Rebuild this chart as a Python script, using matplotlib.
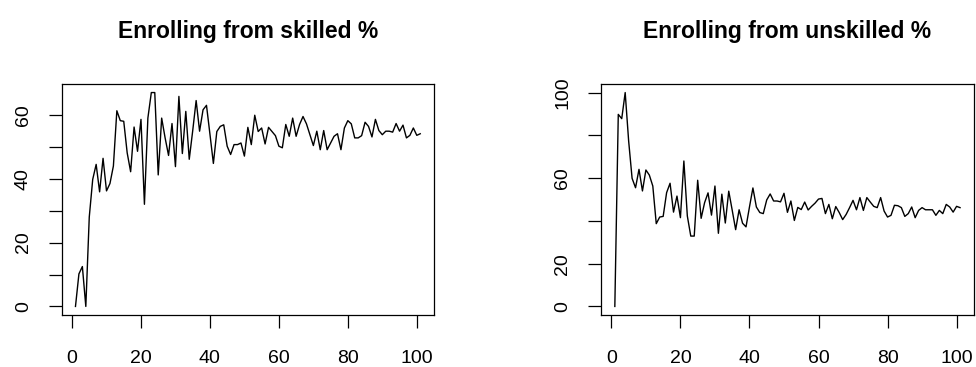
import matplotlib.pyplot as plt

plt.rcParams['font.family'] = ['Liberation Sans', 'DejaVu Sans']

# enrolment shares by period, 1..101
periods = list(range(1, 102))
skilled = [0, 10.2, 12.5, 0, 28, 39.8, 44.5, 35.9, 46.4, 36.2,
           38.5, 44, 61.3, 58.2, 58, 48.1, 42.2, 56.2, 48.6, 58.6,
           32, 59, 67, 67, 41.2, 59, 52.8, 47.3, 57.3, 43.8,
           65.8, 47.9, 61.1, 46.1, 55, 64.5, 54.9, 61.6, 63, 54,
           44.8, 54.8, 56.4, 56.9, 50.2, 47.6, 50.7, 50.7, 51.2, 47.1,
           56.1, 50.7, 59.9, 54.8, 55.9, 50.9, 56.1, 54.8, 53.5, 50.2,
           49.7, 57, 53.3, 59, 53.3, 57, 59.5, 57.2, 53.8, 50.4,
           54.9, 49.1, 55.1, 49.1, 51.2, 53.3, 54.1, 49.1, 55.9, 58.2,
           57.2, 52.8, 52.8, 53.5, 57.7, 56.4, 53.1, 58.6, 55.1, 53.8,
           54.9, 54.9, 54.6, 57.3, 54.9, 56.8, 52.8, 53.6, 55.9, 53.6,
           54.1]
unskilled = [0, 89.8, 87.8, 100, 77.4, 59.9, 55.5, 64.1, 54, 63.8,
             61.4, 56.3, 38.7, 41.8, 42.1, 53.2, 57.6, 44.1, 51.6, 41.5,
             68, 42.3, 32.9, 32.9, 59, 41.2, 48.5, 53.1, 42.7, 56.3,
             34.2, 52.5, 39, 53.9, 45, 35.9, 45.2, 38.9, 37.2, 46.5,
             55.4, 46.5, 43.9, 43.4, 49.8, 52.6, 49.3, 49.3, 48.9, 52.9,
             44, 49.3, 40.2, 46.3, 45.3, 48.8, 45.1, 46.8, 48.3, 50.2,
             50.5, 43.4, 47.7, 41, 46.7, 43.9, 40.6, 43, 46.2, 49.6,
             45.2, 50.9, 44.9, 50.9, 48.8, 46.8, 46.2, 50.9, 44.6, 41.8,
             42.6, 47.3, 47.1, 46.2, 42.1, 43.4, 46.5, 41.5, 44.9, 46.2,
             45.2, 45.2, 45.2, 42.6, 44.9, 43.4, 47.7, 46.5, 44.1, 46.8,
             46.2]

x_ticks = [0, 20, 40, 60, 80, 100]
skilled_ticks = [0, 10, 20, 30, 40, 50, 60]
skilled_labels = ['0', '', '20', '', '40', '', '60']
unskilled_ticks = [0, 20, 40, 60, 80, 100]
unskilled_labels = ['0', '20', '', '60', '', '100']

fig = plt.figure(figsize=(9.76, 3.67), dpi=100)
ax1 = fig.add_axes([0.0632, 0.1417, 0.3815, 0.6294])
ax2 = fig.add_axes([0.6158, 0.1417, 0.3820, 0.6294])


def r_style(ax, y, title, yt, ylab):
    ax.plot(periods, y, color='black', linewidth=1.0)
    lo, hi = min(y), max(y)
    pad = 0.04 * (hi - lo)
    ax.set_ylim(lo - pad, hi + pad)
    ax.set_xlim(1 - 4, 101 + 4)
    ax.set_xticks(x_ticks)
    ax.set_xticklabels([str(t) for t in x_ticks])
    ax.set_yticks(yt)
    ax.set_yticklabels(ylab, rotation=90, va='center')
    ax.tick_params(length=9.5, width=0.9, labelsize=14, pad=16, color='black')
    ax.tick_params(axis='y', pad=12)
    for s in ax.spines.values():
        s.set_linewidth(0.9)
    ax.set_title(title, fontsize=16.5, fontweight='bold', pad=33)


r_style(ax1, skilled, 'Enrolling from skilled %', skilled_ticks, skilled_labels)
r_style(ax2, unskilled, 'Enrolling from unskilled %', unskilled_ticks, unskilled_labels)

fig.savefig('out.png', dpi=100)
